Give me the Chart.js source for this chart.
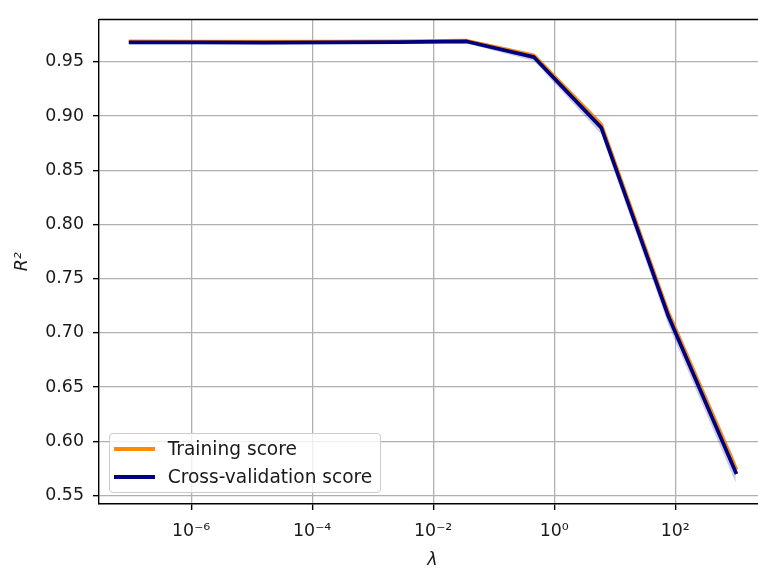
<!DOCTYPE html>
<html><head><meta charset="utf-8">
<script src="https://cdn.jsdelivr.net/npm/chart.js@4"></script>
<style>
html,body{margin:0;padding:0;background:#fff;overflow:hidden;width:758px;height:571px;}
#wrap{position:relative;width:758px;height:571px;overflow:hidden;}
#c{position:absolute;left:0;top:0;}
#legend{position:absolute;left:109px;top:433px;width:272px;height:60px;border:1px solid #cccccc;border-radius:4px;background:rgba(255,255,255,0.8);font-family:'DejaVu Sans';font-size:18.6px;color:#1a1a1a;box-sizing:border-box;}
.item{position:absolute;left:0;height:22px;width:100%;}
.swatch{position:absolute;left:4px;top:9.2px;width:41px;height:3.6px;}
.lbl{position:absolute;left:57.7px;top:0;white-space:nowrap;line-height:22px;}
</style></head>
<body>
<div id="wrap">
<canvas id="c" width="770" height="571"></canvas>
<div id="legend">
  <div class="item" style="top:4.3px"><div class="swatch" id="sw0"></div><div class="lbl" id="lb0"></div></div>
  <div class="item" style="top:32.3px"><div class="swatch" id="sw1"></div><div class="lbl" id="lb1"></div></div>
</div>
</div>
<script>
// ---- data ----
const lambdas   = [1e-7, 1.29e-6, 1.67e-5, 2.15e-4, 2.78e-3, 3.59e-2, 0.464, 5.99, 77.4, 1000];
const trainMean = [0.9688, 0.9687, 0.9686, 0.9687, 0.9690, 0.9695, 0.9558, 0.8920, 0.7180, 0.5752];
const trainStd  = [0.0008, 0.0008, 0.0008, 0.0008, 0.0008, 0.0008, 0.0010, 0.0015, 0.0025, 0.0030];
const cvMean    = [0.9680, 0.9679, 0.9678, 0.9679, 0.9682, 0.9688, 0.9543, 0.8893, 0.7150, 0.5713];
const cvStd     = [0.0018, 0.0018, 0.0018, 0.0018, 0.0018, 0.0020, 0.0035, 0.0060, 0.0080, 0.0095];
const seriesNames = ['Training score', 'Cross-validation score'];
const xTickValues = [1e-6, 1e-4, 1e-2, 1, 100];
const xTickLabels = ['10⁻⁶', '10⁻⁴', '10⁻²', '10⁰', '10²'];
const yTickValues = [0.55, 0.60, 0.65, 0.70, 0.75, 0.80, 0.85, 0.90, 0.95];
const yTickLabels = ['0.55', '0.60', '0.65', '0.70', '0.75', '0.80', '0.85', '0.90', '0.95'];
const xTitle = 'λ';
const yTitle = 'R²';

// ---- styling ----
const trainColor = '#ff8c00', trainBand = 'rgba(255,140,0,0.2)';
const cvColor = '#000080', cvBand = 'rgba(0,0,128,0.2)';
const FONT = 'DejaVu Sans';
const FS = 17.4;

const pts = (ys) => lambdas.map((x, i) => ({x: x, y: ys[i]}));
const upper = (m, s) => m.map((v, i) => v + s[i]);
const lower = (m, s) => m.map((v, i) => v - s[i]);

const band = (data, color, fill) => ({
  data: data, borderColor: 'rgba(0,0,0,0)', borderWidth: 0, pointRadius: 0,
  backgroundColor: color, fill: fill, order: 5, tension: 0
});
const line = (data, color, order, label) => ({
  label: label, data: data, borderColor: color, borderWidth: 3.7, pointRadius: 0,
  fill: false, order: order, tension: 0, borderJoinStyle: 'round', borderCapStyle: 'square'
});

const datasets = [
  band(pts(upper(trainMean, trainStd)), trainBand, false),
  band(pts(lower(trainMean, trainStd)), trainBand, '-1'),
  band(pts(upper(cvMean, cvStd)), cvBand, false),
  band(pts(lower(cvMean, cvStd)), cvBand, '-1'),
  line(pts(trainMean), trainColor, 1, seriesNames[0]),
  line(pts(cvMean), cvColor, 0, seriesNames[1])
];

const topSpine = {
  id: 'topSpine',
  afterDraw(chart) {
    const {ctx, chartArea: a} = chart;
    ctx.save();
    ctx.strokeStyle = '#000';
    ctx.lineWidth = 1.4;
    ctx.beginPath();
    ctx.moveTo(a.left, a.top);
    ctx.lineTo(a.right, a.top);
    ctx.lineTo(a.right, a.bottom);
    ctx.stroke();
    ctx.restore();
  }
};

new Chart(document.getElementById('c'), {
  type: 'line',
  data: {datasets: datasets},
  plugins: [topSpine],
  options: {
    responsive: false,
    animation: false,
    devicePixelRatio: 1,
    layout: {padding: {left: 0, right: 4, top: 9, bottom: 0}},
    plugins: {legend: {display: false}, tooltip: {enabled: false}},
    scales: {
      x: {
        type: 'logarithmic',
        min: Math.pow(10, -7.5),
        max: Math.pow(10, 3.5),
        afterBuildTicks: (s) => { s.ticks = xTickValues.map(v => ({value: v})); },
        afterFit: (s) => { s.height = 67; },
        ticks: {
          autoSkip: false, maxRotation: 0, padding: 11, color: '#1a1a1a',
          font: {family: FONT, size: FS},
          callback: (v, i) => xTickLabels[i]
        },
        grid: {color: '#b0b0b0', lineWidth: 1.3, drawTicks: true, tickLength: 6, tickColor: '#000', tickWidth: 1.4},
        border: {display: true, color: '#000', width: 1.4},
        title: {display: true, text: xTitle, color: '#1a1a1a', padding: {top: 0, bottom: 0},
                font: {family: FONT, size: FS, style: 'italic'}}
      },
      y: {
        type: 'linear',
        min: 0.54214,
        max: 0.98910,
        afterBuildTicks: (s) => { s.ticks = yTickValues.map(v => ({value: v})); },
        afterFit: (s) => { s.width = 99; },
        ticks: {
          autoSkip: false, padding: 9, color: '#1a1a1a',
          font: {family: FONT, size: FS},
          callback: (v, i) => yTickLabels[i]
        },
        grid: {color: '#b0b0b0', lineWidth: 1.3, drawTicks: true, tickLength: 6, tickColor: '#000', tickWidth: 1.4},
        border: {display: true, color: '#000', width: 1.4},
        title: {display: true, text: yTitle, color: '#1a1a1a', padding: {top: 12, bottom: 0},
                font: {family: FONT, size: FS, style: 'italic'}}
      }
    }
  }
});

// HTML legend built from the series names / colours
document.getElementById('sw0').style.background = trainColor;
document.getElementById('sw1').style.background = cvColor;
document.getElementById('lb0').textContent = seriesNames[0];
document.getElementById('lb1').textContent = seriesNames[1];
</script>
</body></html>
